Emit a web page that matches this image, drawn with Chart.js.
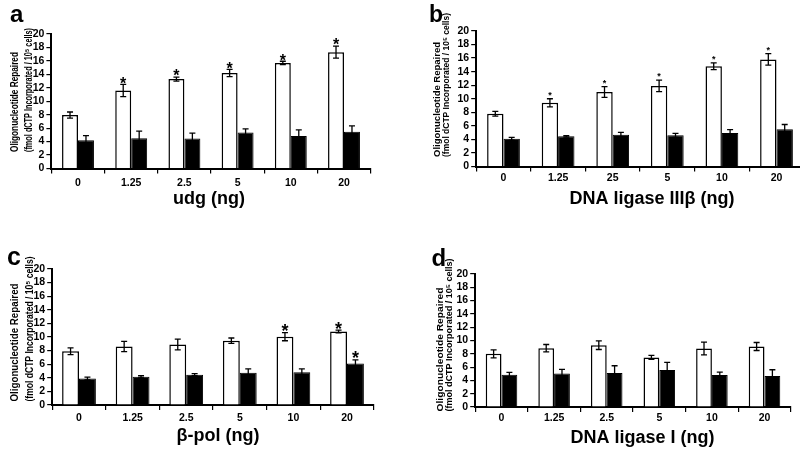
<!DOCTYPE html>
<html><head><meta charset="utf-8">
<script src="https://cdn.jsdelivr.net/npm/chart.js@4.4.1/dist/chart.umd.min.js"></script>
<style>
html,body{margin:0;padding:0;background:#fff;}
body{width:800px;height:452px;overflow:hidden;position:relative;}
canvas{position:absolute;}
</style></head><body>
<canvas id="pa" width="400" height="225" style="left:0px;top:0px"></canvas>
<canvas id="pb" width="410" height="225" style="left:400px;top:0px"></canvas>
<canvas id="pc" width="400" height="227" style="left:0px;top:225px"></canvas>
<canvas id="pd" width="400" height="227" style="left:400px;top:225px"></canvas>
<script>
// ---------- data ----------
const categoriesA = ['0', '1.25', '2.5', '5', '10', '20'];
const categoriesB = ['0', '1.25', '25', '5', '10', '20'];
const categoriesC = ['0', '1.25', '2.5', '5', '10', '20'];
const categoriesD = ['0', '1.25', '2.5', '5', '10', '20'];

const openA = [7.95, 11.6, 13.3, 14.2, 15.7, 17.3];
const openErrA = [0.45, 0.9, 0.3, 0.55, 0.25, 0.9];
const filledA = [4.2, 4.5, 4.45, 5.35, 4.85, 5.45];
const filledErrA = [0.7, 1.05, 0.8, 0.55, 0.9, 0.9];
const openStarsA = [false, true, true, true, true, true];
const filledStarsA = [false, false, false, false, false, false];

const openB = [7.8, 9.4, 11.0, 11.9, 14.8, 15.8];
const openErrB = [0.35, 0.6, 0.8, 0.85, 0.5, 0.85];
const filledB = [4.1, 4.45, 4.7, 4.6, 4.95, 5.5];
const filledErrB = [0.2, 0.1, 0.35, 0.3, 0.5, 0.7];
const openStarsB = [false, true, true, true, true, true];
const filledStarsB = [false, false, false, false, false, false];

const openC = [7.9, 8.6, 8.9, 9.45, 10.05, 10.8];
const openErrC = [0.5, 0.75, 0.8, 0.4, 0.6, 0.2];
const filledC = [3.9, 4.15, 4.45, 4.75, 4.8, 6.1];
const filledErrC = [0.2, 0.15, 0.15, 0.55, 0.5, 0.55];
const openStarsC = [false, false, false, false, true, true];
const filledStarsC = [false, false, false, false, false, true];

const openD = [8.0, 8.85, 9.3, 7.45, 8.8, 9.1];
const openErrD = [0.6, 0.55, 0.65, 0.3, 0.95, 0.6];
const filledD = [4.85, 5.05, 5.1, 5.55, 4.8, 4.65];
const filledErrD = [0.35, 0.6, 1.1, 1.15, 0.45, 0.95];
const openStarsD = [false, false, false, false, false, false];
const filledStarsD = [false, false, false, false, false, false];

const yTicksMin = 0, yTicksMax = 20, yTickStep = 2;
const yTitleLines = ['Oligonucleotide Repaired', '(fmol dCTP Incorporated / 10\u2075 cells)'];
const xTitleA = 'udg (ng)';
const xTitleB = 'DNA ligase III\u03B2 (ng)';
const xTitleC = '\u03B2-pol (ng)';
const xTitleD = 'DNA ligase I (ng)';

// ---------- plugins ----------
const FONT = '"Liberation Sans", Arial, Helvetica, sans-serif';

const errorBarPlugin = {
  id: 'errorBars',
  afterDatasetsDraw(chart, args, opts) {
    const ctx = chart.ctx;
    const ys = chart.scales.y;
    ctx.save();
    chart.data.datasets.forEach((ds, di) => {
      const meta = chart.getDatasetMeta(di);
      meta.data.forEach((bar, i) => {
        const v = ds.data[i], e = ds.errors[i];
        const x = bar.x;
        const yt = ys.getPixelForValue(v + e);
        const yb = ys.getPixelForValue(v - e);
        ctx.strokeStyle = '#000';
        ctx.lineWidth = 1.3;
        ctx.beginPath();
        ctx.moveTo(x, yt); ctx.lineTo(x, yb);
        ctx.moveTo(x - 3, yt); ctx.lineTo(x + 3, yt);
        ctx.moveTo(x - 3, yb); ctx.lineTo(x + 3, yb);
        ctx.stroke();
        if (ds.stars && ds.stars[i]) {
          const s = opts.starSize;
          ctx.fillStyle = '#000';
          ctx.font = 'bold ' + s + 'px ' + FONT;
          ctx.textAlign = 'center';
          ctx.textBaseline = 'alphabetic';
          ctx.fillText('*', x, yt - opts.starGap + 0.58 * s);
        }
      });
    });
    ctx.restore();
  }
};

const panelTextPlugin = {
  id: 'panelText',
  afterDraw(chart, args, o) {
    const ctx = chart.ctx;
    ctx.save();
    ctx.fillStyle = '#000';
    ctx.font = 'bold ' + o.letterSize + 'px ' + FONT;
    ctx.textAlign = 'left';
    ctx.textBaseline = 'alphabetic';
    ctx.fillText(o.letter, o.letterX, o.letterY);
    ctx.font = 'bold 18px ' + FONT;
    ctx.textAlign = 'center';
    ctx.textBaseline = 'middle';
    ctx.fillText(o.xTitle, o.xTitleX, o.xTitleY);
    o.yLines.forEach((line, i) => {
      const p = o.yPos[i];
      ctx.save();
      ctx.font = 'bold ' + o.yFont + 'px ' + FONT;
      const w = ctx.measureText(line).width;
      ctx.translate(p.x, o.yBottom);
      ctx.rotate(-Math.PI / 2);
      ctx.scale(p.len / w, 1);
      ctx.textAlign = 'left';
      ctx.textBaseline = 'middle';
      ctx.fillText(line, 0, 0);
      ctx.restore();
    });
    ctx.restore();
  }
};

function makePanel(id, P) {
  const tickFont = { family: FONT, size: 10.5, weight: 'bold' };
  return new Chart(document.getElementById(id), {
    type: 'bar',
    data: {
      labels: P.categories,
      datasets: [
        { label: 'open', data: P.open, errors: P.openErr, stars: P.openStars,
          backgroundColor: '#ffffff', borderColor: '#000000', borderWidth: 1.5,
          barPercentage: 1.0, categoryPercentage: P.catPct },
        { label: 'filled', data: P.filled, errors: P.filledErr, stars: P.filledStars,
          backgroundColor: '#000000', borderColor: '#000000', borderWidth: 1,
          barPercentage: 1.0, categoryPercentage: P.catPct }
      ]
    },
    options: {
      responsive: false,
      animation: false,
      devicePixelRatio: 1,
      layout: { padding: P.padding },
      plugins: {
        legend: { display: false },
        tooltip: { enabled: false },
        errorBars: { starSize: P.starSize, starGap: P.starGap },
        panelText: P.text
      },
      scales: {
        x: {
          ticks: { color: '#000', font: tickFont, padding: P.tickPadX, maxRotation: 0, autoSkip: false },
          grid: { offset: true, drawOnChartArea: false, tickLength: 5, color: '#000', lineWidth: 1.2 },
          border: { color: '#000', width: 2 },
          afterFit: s => { s.height = P.xHeight; }
        },
        y: {
          min: yTicksMin, max: yTicksMax,
          ticks: { stepSize: yTickStep, autoSkip: false, color: '#000', font: tickFont, padding: 2 },
          grid: { drawOnChartArea: false, tickLength: 5, color: '#000', lineWidth: 1.2 },
          border: { color: '#000', width: 2 },
          afterFit: s => { s.width = P.yWidth; }
        }
      }
    },
    plugins: [errorBarPlugin, panelTextPlugin]
  });
}

makePanel('pa', {
  categories: categoriesA, open: openA, openErr: openErrA, filled: filledA, filledErr: filledErrA,
  openStars: openStarsA, filledStars: filledStarsA,
  catPct: 0.6, padding: { top: 34, right: 29.4, left: 0, bottom: 0 }, yWidth: 51.4, xHeight: 56.5, tickPadX: 3.5,
  starSize: 16, starGap: 5,
  text: { letter: 'a', letterX: 10, letterY: 22, letterSize: 24, xTitle: xTitleA, xTitleX: 209, xTitleY: 199,
    yLines: yTitleLines, yFont: 10.5, yBottom: 152, yPos: [{ x: 15.5, len: 100 }, { x: 29, len: 124 }] }
});
makePanel('pb', {
  categories: categoriesB, open: openB, openErr: openErrB, filled: filledB, filledErr: filledErrB,
  openStars: openStarsB, filledStars: filledStarsB,
  catPct: 0.6, padding: { top: 31, right: 6.2, left: 0, bottom: 0 }, yWidth: 76.2, xHeight: 58.5, tickPadX: 0,
  starSize: 9, starGap: 6,
  text: { letter: 'b', letterX: 29, letterY: 22, letterSize: 23, xTitle: xTitleB, xTitleX: 252, xTitleY: 199,
    yLines: yTitleLines, yFont: 9, yBottom: 157, yPos: [{ x: 38, len: 115 }, { x: 47, len: 144 }] }
});
makePanel('pc', {
  categories: categoriesC, open: openC, openErr: openErrC, filled: filledC, filledErr: filledErrC,
  openStars: openStarsC, filledStars: filledStarsC,
  catPct: 0.63, padding: { top: 44, right: 26.2, left: 0, bottom: 0 }, yWidth: 52.2, xHeight: 47, tickPadX: 1.7,
  starSize: 18, starGap: 6,
  text: { letter: 'c', letterX: 7, letterY: 39.5, letterSize: 25, xTitle: xTitleC, xTitleX: 218, xTitleY: 211,
    yLines: yTitleLines, yFont: 10.5, yBottom: 176.5, yPos: [{ x: 15.5, len: 118 }, { x: 30, len: 145 }] }
});
makePanel('pd', {
  categories: categoriesD, open: openD, openErr: openErrD, filled: filledD, filledErr: filledErrD,
  openStars: openStarsD, filledStars: filledStarsD,
  catPct: 0.6, padding: { top: 49, right: 9.2, left: 0, bottom: 0 }, yWidth: 75.2, xHeight: 45, tickPadX: 0.3,
  starSize: 16, starGap: 6,
  text: { letter: 'd', letterX: 31.5, letterY: 40.7, letterSize: 24, xTitle: xTitleD, xTitleX: 242.5, xTitleY: 213,
    yLines: yTitleLines, yFont: 9.5, yBottom: 186.5, yPos: [{ x: 40, len: 124 }, { x: 49, len: 153 }] }
});
</script>
</body></html>
